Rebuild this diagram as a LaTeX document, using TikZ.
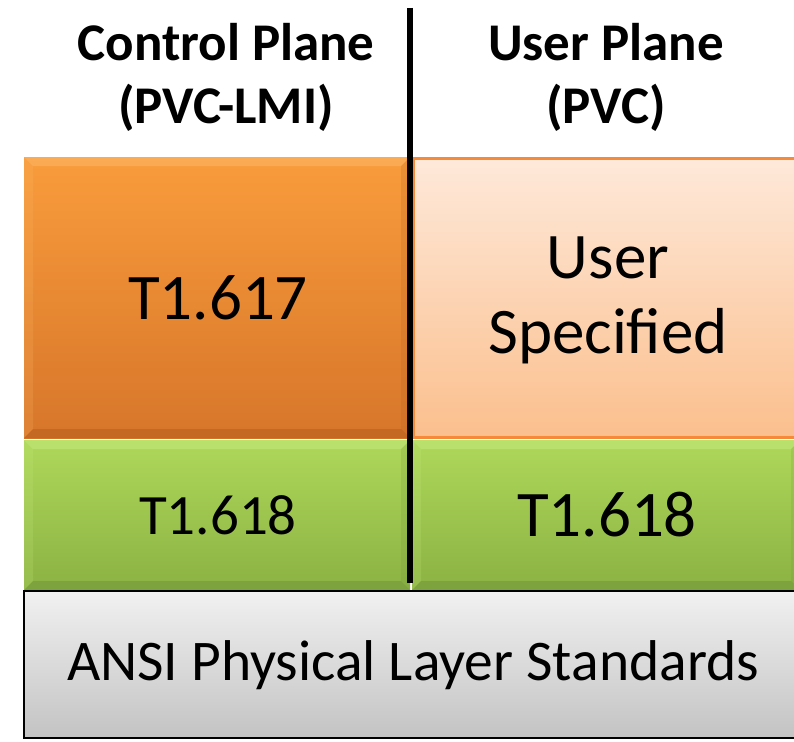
\documentclass[tikz,border=0pt]{standalone}
\usepackage{fontspec}
\setmainfont{Carlito}
\definecolor{orTop}{HTML}{F99C3C}
\definecolor{orBot}{HTML}{D7762A}
\definecolor{orHi}{HTML}{FBB866}
\definecolor{orLo}{HTML}{B45F1F}
\definecolor{peTop}{HTML}{FEE9DA}
\definecolor{peBot}{HTML}{FBBF8D}
\definecolor{peLine}{HTML}{F58A3A}
\definecolor{grTop}{HTML}{AED85A}
\definecolor{grBot}{HTML}{8BB243}
\definecolor{grHi}{HTML}{C4E97C}
\definecolor{grLo}{HTML}{72963A}
\definecolor{gyTop}{HTML}{F1F1F1}
\definecolor{gyBot}{HTML}{C3C3C3}
\tikzset{
  heading/.style={font=\fontsize{53}{63}\selectfont\bfseries, align=center, text=black},
  biglabel/.style={font=\fontsize{65}{75}\selectfont, align=center, text=black},
  midlabel/.style={font=\fontsize{57}{66}\selectfont, align=center, text=black},
  baselabel/.style={font=\fontsize{57.5}{64}\selectfont, align=center, text=black},
  divider/.style={line width=5.5pt, black}
}
% bevelled block: corners (#1,#2)-(#3,#4), shading #5->#6, highlight #7, shadow #8
\newcommand{\bevelblock}[8]{%
  \fill[top color=#5, bottom color=#6] (#1,#2) rectangle (#3,#4);
  \fill[#7, opacity=0.55] (#1,#2) -- (#3,#2) -- ({#3-9},{#2+9}) -- ({#1+9},{#2+9}) -- cycle;
  \fill[#7, opacity=0.2] (#1,#2) -- ({#1+9},{#2+9}) -- ({#1+9},{#4-9}) -- (#1,#4) -- cycle;
  \fill[#8, opacity=0.2] (#3,#2) -- ({#3-9},{#2+9}) -- ({#3-9},{#4-9}) -- (#3,#4) -- cycle;
  \fill[#8, opacity=0.55] (#1,#4) -- ({#1+9},{#4-9}) -- ({#3-9},{#4-9}) -- (#3,#4) -- cycle;
}
\begin{document}
\begin{tikzpicture}[x=1pt, y=-1pt]
\useasboundingbox (0,0) rectangle (794,741);
\fill[white] (0,0) rectangle (794,741);

% control plane signalling block
\bevelblock{24}{157}{410}{438}{orTop}{orBot}{orHi}{orLo}
% user plane block
\fill[top color=peTop, bottom color=peBot] (412,157) rectangle (800,438);
\draw[peLine, line width=3pt] (412,158) -- (800,158) (412,437) -- (800,437) (413.5,158) -- (413.5,437);
% core services blocks
\bevelblock{24}{440}{410}{590}{grTop}{grBot}{grHi}{grLo}
\bevelblock{412}{440}{800}{590}{grTop}{grBot}{grHi}{grLo}
% physical layer block
\draw[black, line width=2pt, top color=gyTop, bottom color=gyBot] (24,591) rectangle (800,738);

% divider between the planes
\coordinate (divTop) at (410,8);
\coordinate (divBot) at (410,583);
\draw[divider] (divTop) -- (divBot);

% labels
\node[heading] (hdCtrl) at (226,77) {Control Plane\\(PVC-LMI)};
\node[heading] (hdUser) at (606,77) {User Plane\\(PVC)};
\node[biglabel] (lmi) at (218,298) {T1.617};
\node[biglabel] (usr) at (608,300) {User\\Specified};
\node[midlabel] (coreL) at (218,515) {T1.618};
\node[biglabel] (coreR) at (607,515) {T1.618};
\node[baselabel] (phy) at (413,665) {ANSI Physical Layer Standards};
\end{tikzpicture}
\end{document}
